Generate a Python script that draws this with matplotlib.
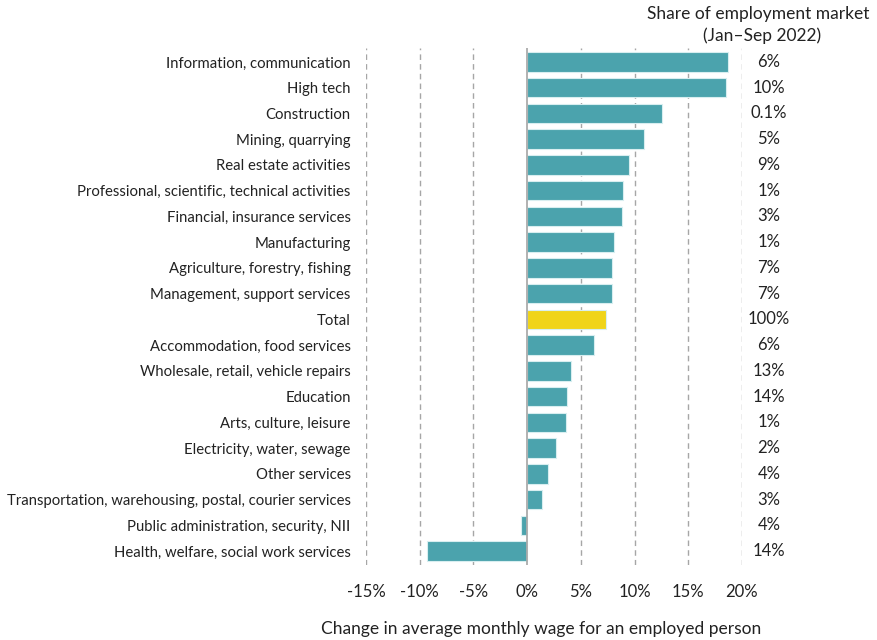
import numpy as np
import matplotlib.pyplot as plt
from matplotlib.ticker import FuncFormatter
from matplotlib.transforms import blended_transform_factory

plt.rcParams['font.family'] = ['Lato', 'DejaVu Sans']

categories = ["Information, communication", "High tech", "Construction", "Mining, quarrying",
              "Real estate activities", "Professional, scientific, technical activities",
              "Financial, insurance services", "Manufacturing", "Agriculture, forestry, fishing",
              "Management, support services", "Total", "Accommodation, food services",
              "Wholesale, retail, vehicle repairs", "Education", "Arts, culture, leisure",
              "Electricity, water, sewage", "Other services",
              "Transportation, warehousing, postal, courier services",
              "Public administration, security, NII", "Health, welfare, social work services"]
wage_change = [18.66, 18.54, 12.58, 10.88, 9.49, 8.93, 8.83, 8.12, 7.94, 7.87, 7.35,
               6.26, 4.09, 3.69, 3.63, 2.73, 1.98, 1.39, -0.59, -9.30]
share = ["6%", "10%", "0.1%", "5%", "9%", "1%", "3%", "1%", "7%", "7%", "100%",
         "6%", "13%", "14%", "1%", "2%", "4%", "3%", "4%", "14%"]
xticks = [-15, -10, -5, 0, 5, 10, 15, 20]

teal = "#4BA3AD"
yellow = "#F0D419"
colors = [yellow if c == "Total" else teal for c in categories]

fig = plt.figure(figsize=(8.77, 6.4), dpi=100)
ax = fig.add_axes([366 / 877, 1 - 565 / 640, 376 / 877, 517 / 640])

y = np.arange(len(categories))
ax.barh(y, wage_change, height=0.76, color=colors, edgecolor="#D8EEF0", linewidth=0.8, zorder=3)

for t in xticks:
    if t == 0:
        ax.axvline(t, color="#ABABAB", linewidth=1.3, zorder=4)
    else:
        ax.axvline(t, color="#A6A6A6", linewidth=1.0, linestyle=(0, (4, 3)), zorder=1)

ax.set_xlim(-15, 20)
ax.set_ylim(len(categories) - 0.46, -0.54)
ax.set_xticks(xticks)
ax.xaxis.set_major_formatter(FuncFormatter(lambda v, pos: f"{v:.0f}%"))
ax.set_yticks(y)
ax.set_yticklabels(categories, fontsize=10.75, color="#222222")
ax.tick_params(axis="y", length=0, pad=11)
ax.tick_params(axis="x", length=0, pad=14, labelsize=12, colors="#222222")
for s in ax.spines.values():
    s.set_visible(False)

ax.set_xlabel("Change in average monthly wage for an employed person", fontsize=12.5,
              color="#222222", labelpad=15)
ax.xaxis.label.set_x((541 - 366) / 376)

# share of employment column: figure x, data y
share_tr = blended_transform_factory(fig.transFigure, ax.transData)
for i, s in enumerate(share):
    ax.text(769 / 877, i, s, transform=share_tr, fontsize=12,
            ha="center", va="center", color="#222222")

fig.text(758 / 877, 1 - 14 / 640, "Share of employment market", fontsize=12.5,
         ha="center", va="center", color="#222222")
fig.text(762 / 877, 1 - 36 / 640, "(Jan\u2013Sep 2022)", fontsize=12.5,
         ha="center", va="center", color="#222222")

fig.savefig("out.png", dpi=100)
